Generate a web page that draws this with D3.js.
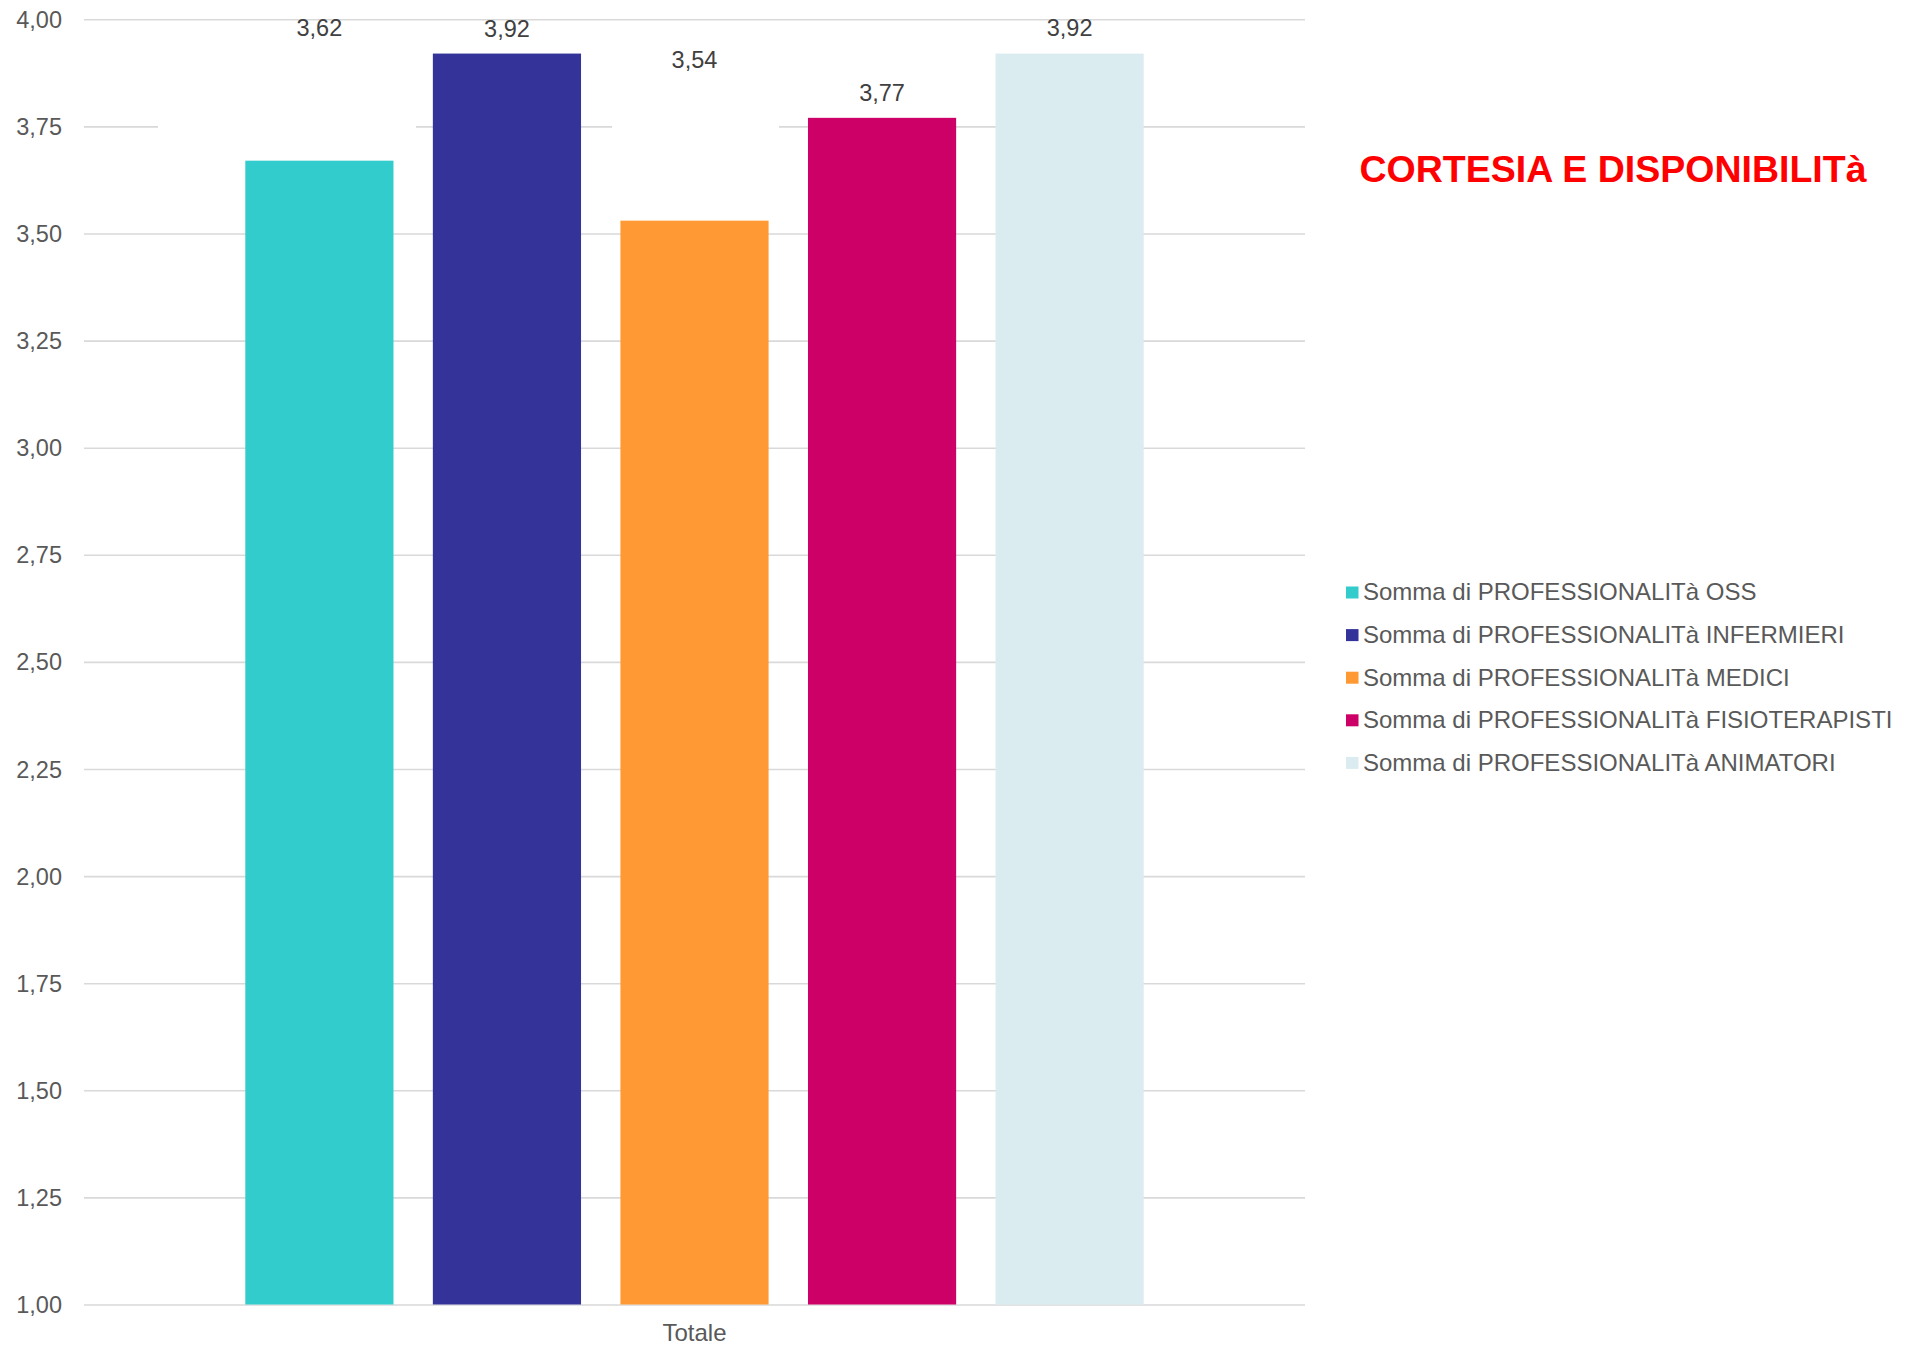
<!DOCTYPE html>
<html>
<head>
<meta charset="utf-8">
<script src="https://cdn.jsdelivr.net/npm/d3@7"></script>
<style>
  html, body { margin: 0; padding: 0; background: #ffffff; }
  svg { display: block; font-family: "Liberation Sans", Arial, sans-serif; }
</style>
</head>
<body>
<svg id="chart" width="1917" height="1347"></svg>
<script>
// ---- data ----
const categories = ["Totale"];
const seriesNames = [
  "Somma di PROFESSIONALITà OSS",
  "Somma di PROFESSIONALITà INFERMIERI",
  "Somma di PROFESSIONALITà MEDICI",
  "Somma di PROFESSIONALITà FISIOTERAPISTI",
  "Somma di PROFESSIONALITà ANIMATORI"
];
const barValues = [3.67, 3.92, 3.53, 3.77, 3.92];
const labelTexts = ["3,62", "3,92", "3,54", "3,77", "3,92"];
const yTicks = [1.00, 1.25, 1.50, 1.75, 2.00, 2.25, 2.50, 2.75, 3.00, 3.25, 3.50, 3.75, 4.00];
const titleText = "CORTESIA E DISPONIBILITà";

// ---- styles / layout ----
const colors = ["#33CCCC", "#333399", "#FF9933", "#CC0066", "#DAECF0"];
const plot = { left: 84, right: 1305, top: 19.3, bottom: 1304.5 };
// vertical offset of each value label above its bar top (labels were moved by hand in the original)
const labelLift = [133, 25, 161, 25, 26];
// white label boxes that hide pieces of the gridlines: [x0,x1] in pixels, and value range
const labelBoxes = [
  { x0: 158, x1: 416, v0: 3.70, v1: 3.985 },
  { x0: 612, x1: 779, v0: 3.62, v1: 3.93 }
];

const svg = d3.select("#chart");

const y = d3.scaleLinear().domain([1, 4]).range([plot.bottom, plot.top]);
const x0 = d3.scaleBand().domain(categories).range([plot.left, plot.right])
  .paddingInner(0).paddingOuter(0.151);
const x1 = d3.scaleBand().domain(d3.range(seriesNames.length)).range([0, x0.bandwidth()])
  .paddingInner(0.21).paddingOuter(0.105);

// gridlines + y tick labels via axis
const yAxis = d3.axisLeft(y).tickValues(yTicks)
  .tickSize(-(plot.right - plot.left))
  .tickFormat(d => d3.format(".2f")(d).replace(".", ","));
const gAxis = svg.append("g").attr("transform", `translate(${plot.left},0)`).call(yAxis);
gAxis.select(".domain").remove();
gAxis.selectAll(".tick line").attr("stroke", "#D9D9D9").attr("stroke-width", 1.6);
gAxis.selectAll(".tick text").attr("x", -22).attr("fill", "#595959")
  .attr("font-size", "23.5px").attr("dy", "0.34em");

// white label boxes
svg.append("g").selectAll("rect").data(labelBoxes).join("rect")
  .attr("x", d => d.x0).attr("width", d => d.x1 - d.x0)
  .attr("y", d => y(d.v1)).attr("height", d => y(d.v0) - y(d.v1))
  .attr("fill", "#ffffff");

// bars
const gCat = svg.append("g").selectAll("g").data(categories).join("g")
  .attr("transform", d => `translate(${x0(d)},0)`);
gCat.selectAll("rect").data(barValues.map((v, i) => ({ v, i }))).join("rect")
  .attr("x", d => x1(d.i)).attr("width", x1.bandwidth())
  .attr("y", d => y(d.v)).attr("height", d => y(1) - y(d.v))
  .attr("fill", d => colors[d.i]);

// value labels
gCat.selectAll("text.val").data(barValues.map((v, i) => ({ v, i }))).join("text")
  .attr("class", "val")
  .attr("x", d => x1(d.i) + x1.bandwidth() / 2)
  .attr("y", d => y(d.v) - labelLift[d.i])
  .attr("dy", "0.35em")
  .attr("text-anchor", "middle").attr("fill", "#404040").attr("font-size", "23.5px")
  .text(d => labelTexts[d.i]);

// category label
svg.append("g").selectAll("text").data(categories).join("text")
  .attr("x", d => x0(d) + x0.bandwidth() / 2).attr("y", 1333).attr("dy", "0.35em")
  .attr("text-anchor", "middle").attr("fill", "#595959").attr("font-size", "24px")
  .text(d => d);

// title
svg.append("text").attr("x", 1613).attr("y", 169).attr("dy", "0.35em")
  .attr("text-anchor", "middle").attr("fill", "#FF0000")
  .attr("font-weight", "bold").attr("font-size", "37.5px")
  .text(titleText);

// legend
const leg = svg.append("g").attr("transform", "translate(1346,592)");
const items = leg.selectAll("g").data(seriesNames).join("g")
  .attr("transform", (d, i) => `translate(0,${i * 42.6})`);
items.append("rect").attr("x", 0).attr("y", -5.5).attr("width", 12.5).attr("height", 12)
  .attr("fill", (d, i) => colors[i]);
items.append("text").attr("x", 17).attr("y", 0).attr("dy", "0.35em")
  .attr("fill", "#595959").attr("font-size", "24px").text(d => d);
</script>
</body>
</html>
